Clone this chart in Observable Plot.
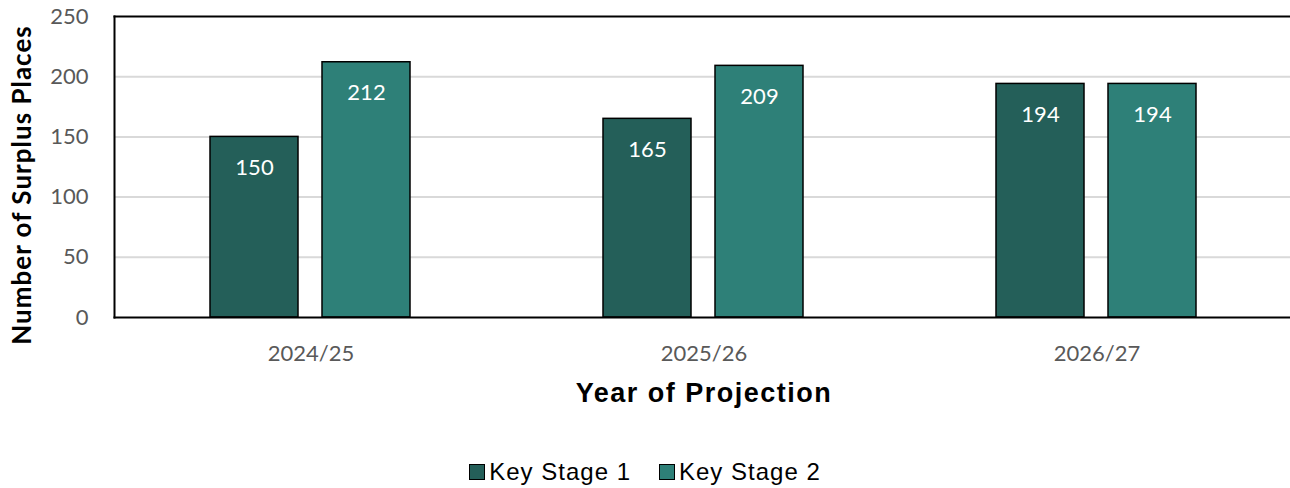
<!DOCTYPE html>
<html><head><meta charset="utf-8">
<script src="https://cdn.jsdelivr.net/npm/d3@7"></script>
<script src="https://cdn.jsdelivr.net/npm/@observablehq/plot@0.6"></script>
<style>
body{margin:0;background:#fff;}
#chart{width:1290px;}
.legend{display:flex;justify-content:center;align-items:center;height:48px;font-family:"Liberation Sans",Arial,sans-serif;font-size:24px;color:#000;letter-spacing:1px;}
.legend .item{display:flex;align-items:center;margin:0 14px;}
.legend .sw{width:14px;height:14px;border:1.5px solid #000;margin-right:4px;}
.xt text{letter-spacing:1.5px}
.yt text{letter-spacing:1px}
</style></head><body><div id="chart"></div>
<script>
const years = ["2024/25","2025/26","2026/27"];
const stages = ["Key Stage 1","Key Stage 2"];
const ks1 = [150,165,194];
const ks2 = [212,209,194];
const colors = ["#245F59","#2E8078"];
const yTicks = [0,50,100,150,200,250];
const gridTicks = [50,100,150,200];
const yTitle = "Number of Surplus Places";
const xTitle = "Year of Projection";

const data = years.flatMap((yr,i)=>[
  {year:yr, stage:stages[0], value:ks1[i]},
  {year:yr, stage:stages[1], value:ks2[i]}
]);

const chart = Plot.plot({
  width:1290, height:448,
  marginTop:16, marginBottom:131, marginLeft:114, marginRight:-3,
  style:{fontFamily:"Lato, sans-serif", fontSize:"22px", color:"#595959", background:"white", overflow:"visible"},
  fx:{domain:years, padding:0, label:null},
  x:{domain:stages, paddingInner:0.214, paddingOuter:0.861, axis:null},
  y:{domain:[0,250], label:null},
  color:{domain:stages, range:colors},
  marks:[
    Plot.gridY(gridTicks, {stroke:"#d9d9d9", strokeOpacity:1, strokeWidth:2}),
    Plot.axisY(yTicks, {tickSize:0, tickPadding:26, label:null, fontSize:22}),
    Plot.axisFx({anchor:"bottom", tickSize:0, tickPadding:28, label:null, fontSize:22}),
    Plot.barY(data, {fx:"year", x:"stage", y:"value", fill:"stage", stroke:"black", strokeWidth:1.5}),
    Plot.text(data, {fx:"year", x:"stage", y:"value", text:d=>String(d.value), fill:"white", dy:31, fontSize:22}),
    Plot.frame({facet:"super", anchor:"top", stroke:"black", strokeWidth:2}),
    Plot.frame({facet:"super", anchor:"left", stroke:"black", strokeWidth:2}),
    Plot.frame({facet:"super", anchor:"bottom", stroke:"black", strokeWidth:2}),
    Plot.text([yTitle], {facet:"super", frameAnchor:"left", textAnchor:"middle", rotate:-90, dx:-92, dy:18, fontWeight:"bold", fontSize:26, fill:"black", className:"yt"}),
    Plot.text([xTitle], {facet:"super", frameAnchor:"bottom", dy:84, fontFamily:"Liberation Sans, Arial, sans-serif", fontWeight:"bold", fontSize:27, fill:"black", className:"xt"})
  ]
});
document.getElementById("chart").appendChild(chart);

const legend = document.createElement("div");
legend.className = "legend";
stages.forEach((s,i)=>{
  const it = document.createElement("div"); it.className="item";
  const sw = document.createElement("span"); sw.className="sw"; sw.style.background=colors[i];
  const tx = document.createElement("span"); tx.textContent = s;
  it.appendChild(sw); it.appendChild(tx); legend.appendChild(it);
});
document.getElementById("chart").appendChild(legend);
</script></body></html>
